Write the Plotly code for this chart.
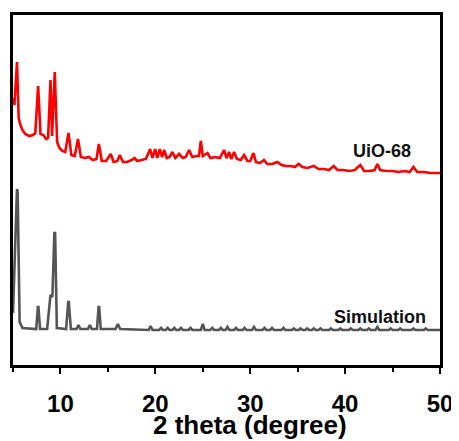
import plotly.graph_objects as go

# 2-theta (degree) and intensity (a.u., offset included)
uio68_2theta = [5.0, 5.15, 5.42, 5.6, 5.75, 6.0, 6.3, 6.7, 7.1, 7.35, 7.65, 7.9, 8.2, 8.5, 8.7, 8.95, 9.12, 9.4,
                9.65, 9.9, 10.2, 10.5, 10.85, 11.15, 11.5, 11.85, 12.15, 12.6, 13.0, 13.4, 13.8, 14.05, 14.35,
                14.8, 15.3, 15.6, 16.0, 16.25, 16.6, 17.0, 17.5, 17.8, 18.1, 18.6, 19.0, 19.45, 19.7, 19.98,
                20.2, 20.47, 20.7, 20.93, 21.2, 21.5, 21.8, 22.1, 22.5, 22.9, 23.2, 23.56, 23.9, 24.3, 24.6,
                24.79, 25.0, 25.5, 25.8, 26.3, 26.8, 27.24, 27.5, 27.77, 28.0, 28.3, 28.6, 29.0, 29.35, 29.7,
                30.0, 30.34, 30.6, 31.0, 31.45, 31.8, 32.3, 32.86, 33.3, 33.8, 34.3, 34.7, 35.1, 35.5, 36.0,
                36.7, 37.2, 37.8, 38.3, 38.8, 39.2, 39.8, 40.5, 41.0, 41.6, 42.0, 42.6, 43.1, 43.4, 43.7, 44.3,
                45.0, 45.6, 46.3, 46.8, 47.2, 47.6, 48.3, 49.0, 50.0]
uio68_int = [272, 265, 308, 252, 246, 240, 236, 234, 235, 237, 284, 236, 235, 231, 232, 290, 234, 298,
             228, 222, 219, 218, 237, 215, 214, 231, 213, 212, 213, 210, 211, 226, 209,
             209, 216, 208, 209, 215, 208, 208, 210, 212, 209, 210, 211, 221, 212, 221,
             212, 221, 213, 220, 212, 213, 218, 212, 216, 212, 213, 220, 213, 214, 214,
             229, 214, 217, 212, 213, 212, 220, 212, 218, 211, 218, 211, 210, 215, 209,
             209, 217, 208, 207, 210, 206, 206, 208, 205, 204, 204, 203, 206, 203, 202,
             204, 201, 201, 200, 204, 200, 200, 199, 200, 205, 199, 199, 200, 206, 200, 199,
             199, 198, 199, 198, 203, 198, 198, 197, 197]

sim_2theta = [5.0, 5.35, 5.42, 5.49, 5.7, 6.0, 7.0, 7.45, 7.62, 7.68, 7.85, 8.6, 8.95, 9.15, 9.36, 9.44, 9.62,
              10.2, 10.6, 10.82, 10.88, 11.1, 11.7, 11.9, 12.1, 12.9, 13.1, 13.3, 13.85, 14.02, 14.08, 14.25,
              15.8, 16.05, 16.3, 19.3,
              19.5, 19.7, 20.4, 20.6, 20.8, 21.1, 21.3, 21.5, 21.8, 22.0, 22.2, 22.5, 22.7, 22.9, 23.5,
              23.7, 23.9, 24.8, 25.0, 25.2, 25.8, 26.0, 26.2, 26.7, 26.9, 27.1, 27.4, 27.6, 27.8, 28.3,
              28.5, 28.7, 29.2, 29.4, 29.6, 30.2, 30.4, 30.6, 31.3, 31.5, 31.7, 32.1, 32.3, 32.5, 33.3,
              33.5, 33.7, 34.4, 34.6, 34.8, 35.1, 35.3, 35.5, 35.8, 36.0, 36.2, 36.5, 36.7, 36.9, 37.2,
              37.4, 37.6, 38.3, 38.5, 38.7, 39.3, 39.5, 39.7, 40.4, 40.6, 40.8, 41.4, 41.6, 41.8, 42.3,
              42.5, 42.7, 43.2, 43.4, 43.6, 44.6, 44.8, 45.0, 45.6, 45.8, 46.0, 47.0, 47.2, 47.4, 48.3,
              48.5, 48.7, 50.0]
sim_int = [57, 178, 181, 178, 48, 42, 41, 41, 63, 63, 41, 41, 75, 73, 137, 137, 42,
           41, 41, 68, 68, 41, 41, 45, 41, 41, 45, 41, 41, 63, 63, 41,
           41, 46, 41, 40,
           44, 40, 40, 42, 40, 40, 42, 40, 40, 42, 40, 40, 42, 40, 40,
           42, 40, 40, 46, 40, 40, 42, 40, 40, 42, 40, 40, 43, 40, 40,
           42, 40, 40, 42, 40, 40, 43, 40, 40, 42, 40, 40, 42, 40, 40,
           42, 40, 40, 41.5, 40, 40, 41.5, 40, 40, 41.5, 40, 40, 41.5, 40, 40,
           41.5, 40, 40, 41.5, 40, 40, 41.5, 40, 40, 41.5, 40, 40, 41.5, 40, 40,
           41.5, 40, 40, 43, 40, 40, 41.5, 40, 40, 41.5, 40, 40, 41.5, 40, 40,
           41.5, 40, 40]

x_ticks = [10, 20, 30, 40, 50]
labels = ["UiO-68", "Simulation"]
label_pos = [(43.9, 219), (43.7, 53)]
x_title = "2 theta (degree)"

font_family = "Liberation Sans, Arial, sans-serif"

fig = go.Figure()
fig.add_trace(go.Scatter(x=uio68_2theta, y=uio68_int, mode="lines", name=labels[0],
                         line=dict(color="#ff0000", width=2.6)))
fig.add_trace(go.Scatter(x=sim_2theta, y=sim_int, mode="lines", name=labels[1],
                         line=dict(color="#555555", width=2.6)))

for txt, (lx, ly) in zip(labels, label_pos):
    fig.add_annotation(x=lx, y=ly, text=txt, showarrow=False, xanchor="center", yanchor="middle",
                       font=dict(family=font_family, size=18, color="#111111", weight="bold"))

# axis title (placed under the 30-degree tick, as in the reference)
fig.add_annotation(x=30, xref="x", y=-0.172, yref="paper", text=x_title, showarrow=False,
                   xanchor="center", yanchor="middle",
                   font=dict(family=font_family, size=26, color="black", weight="bold"))

fig.update_layout(
    width=451, height=433,
    margin=dict(l=5, r=18.5, t=7, b=76),
    plot_bgcolor="white", paper_bgcolor="white",
    showlegend=False,
    font=dict(family=font_family, color="#000000"),
)
fig.update_xaxes(
    range=[5, 50], tickvals=x_ticks, ticks="outside", ticklen=6, tickwidth=2, tickcolor="black",
    minor=dict(ticks="outside", ticklen=4, tickwidth=2, tickcolor="black", dtick=5, tick0=5),
    showline=True, linecolor="black", linewidth=3, mirror=True, showgrid=False, zeroline=False,
    tickfont=dict(family=font_family, size=24, color="black", weight="bold"),
    ticklabelstandoff=9,
)
fig.update_yaxes(
    range=[5, 355], showticklabels=False, ticks="", showline=True, linecolor="black", linewidth=3,
    mirror=True, showgrid=False, zeroline=False,
)

fig.write_html("out.html")
